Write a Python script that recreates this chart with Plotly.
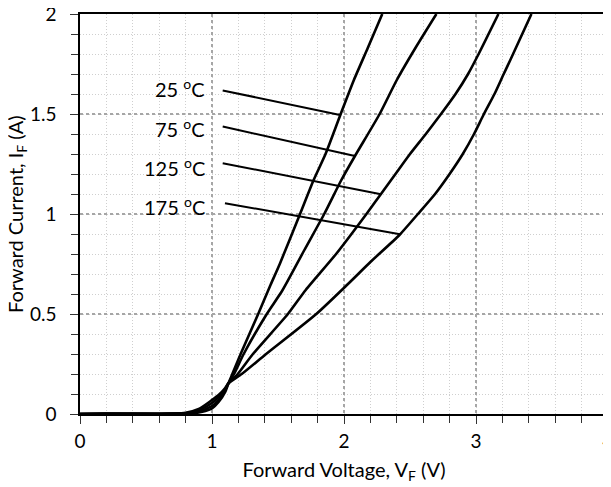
import plotly.graph_objects as go

# Forward voltage (V) / forward current (A)
v_25 = [0, 0.2, 0.4, 0.6, 0.7, 0.8, 0.9, 0.95, 1.0, 1.05, 1.1, 1.124, 1.154, 1.217, 1.35, 1.44, 1.515, 1.667, 1.77, 1.86, 1.975, 2.075, 2.18, 2.29]
i_25 = [0, 0, 0.002, 0, 0.001, 0.002, 0.008, 0.015, 0.028, 0.06, 0.11, 0.153, 0.2, 0.3, 0.5, 0.64, 0.753, 1.0, 1.17, 1.3, 1.5, 1.67, 1.83, 2.0]

v_75 = [0, 0.2, 0.4, 0.6, 0.75, 0.8, 0.9, 1.0, 1.05, 1.1, 1.124, 1.167, 1.24, 1.415, 1.535, 1.70, 1.85, 1.98, 2.083, 2.27, 2.40, 2.55, 2.70]
i_75 = [0, 0.001, 0, 0.001, 0.001, 0.003, 0.013, 0.04, 0.07, 0.12, 0.153, 0.2, 0.3, 0.5, 0.62, 0.82, 1.0, 1.17, 1.29, 1.5, 1.67, 1.84, 2.0]

v_125 = [0, 0.2, 0.4, 0.6, 0.75, 0.8, 0.9, 1.0, 1.05, 1.1, 1.124, 1.195, 1.31, 1.575, 1.71, 1.94, 2.17, 2.28, 2.39, 2.50, 2.62, 2.735, 2.845, 2.94, 3.02, 3.17]
i_125 = [0, 0.001, 0.001, 0, 0.002, 0.004, 0.018, 0.055, 0.085, 0.125, 0.153, 0.2, 0.3, 0.5, 0.62, 0.8, 1.0, 1.1, 1.2, 1.3, 1.4, 1.5, 1.6, 1.7, 1.8, 2.0]

v_175 = [0, 0.2, 0.4, 0.6, 0.7, 0.8, 0.9, 1.0, 1.05, 1.1, 1.124, 1.225, 1.41, 1.79, 2.03, 2.2, 2.42, 2.56, 2.69, 2.80, 2.90, 2.985, 3.06, 3.14, 3.21, 3.26, 3.42]
i_175 = [0, 0.002, 0, 0.001, 0.002, 0.006, 0.025, 0.07, 0.095, 0.13, 0.153, 0.2, 0.3, 0.5, 0.65, 0.76, 0.895, 1.0, 1.1, 1.2, 1.3, 1.4, 1.5, 1.6, 1.7, 1.77, 2.0]

curve_v = [v_25, v_75, v_125, v_175]
curve_i = [i_25, i_75, i_125, i_175]
labels = ["25 <sup>o</sup>C", "75 <sup>o</sup>C", "125 <sup>o</sup>C", "175 <sup>o</sup>C"]

x_ticks = [0, 1, 2, 3, 4]
y_ticks = [0, 0.5, 1, 1.5, 2]
y_tick_text = ["0", "0.5", "1", "1.5", "2"]

FONT = "Lato"
FS = 20
TFS = 19

fig = go.Figure()
for v, i in zip(curve_v, curve_i):
    fig.add_trace(go.Scatter(x=v, y=i, mode="lines",
                             line=dict(color="black", width=2.6, shape="spline", smoothing=0.6),
                             showlegend=False, hoverinfo="skip"))

# label text + leader lines
label_text_y = [1.63, 1.43, 1.235, 1.04]
leader_start = [(1.081, 1.618), (1.081, 1.437), (1.081, 1.254), (1.098, 1.054)]
leader_end = [(1.97, 1.495), (2.083, 1.29), (2.28, 1.099), (2.424, 0.899)]
for lab, ty, s, e in zip(labels, label_text_y, leader_start, leader_end):
    fig.add_annotation(x=0.962, y=ty, xref="x", yref="y", text=lab,
                       showarrow=False, xanchor="right", yanchor="middle",
                       font=dict(family=FONT, size=FS, color="black"))
    fig.add_shape(type="line", xref="x", yref="y", x0=s[0], y0=s[1], x1=e[0], y1=e[1],
                  line=dict(color="black", width=2))

# y-axis title (placed as a rotated annotation for precise position)
fig.add_annotation(x=0, y=0.5, xref="paper", yref="paper", xshift=-64,
                   text="Forward Current, I<sub>F</sub> (A)", textangle=-90,
                   showarrow=False, xanchor="center", yanchor="middle",
                   font=dict(family=FONT, size=FS, color="black"))

axis_common = dict(
    showline=True, linecolor="black", linewidth=1.5, mirror=True,
    ticks="outside", ticklen=8, tickwidth=1.2, tickcolor="#333",
    showgrid=True, gridcolor="#a6a6a6", gridwidth=2.2, griddash="3px,3px",
    zeroline=False, automargin=False, ticklabeloverflow="allow",
    tickfont=dict(family=FONT, size=TFS, color="black"),
)

fig.update_xaxes(range=[0, 4], tickvals=x_ticks, ticktext=[str(t) for t in x_ticks],
                 ticklabelstandoff=1,
                 minor=dict(dtick=0.2, ticks="outside", ticklen=7, tickcolor="#333",
                            showgrid=True, gridcolor="#cfcfcf", gridwidth=1, griddash="1px,2px"),
                 title=dict(text="Forward Voltage, V<sub>F</sub> (V)", standoff=12,
                            font=dict(family=FONT, size=FS, color="black")),
                 **axis_common)
fig.update_yaxes(range=[0, 2], tickvals=y_ticks, ticktext=y_tick_text,
                 ticklabelstandoff=10,
                 minor=dict(dtick=0.1, ticks="outside", ticklen=7, tickcolor="#333",
                            showgrid=True, gridcolor="#cfcfcf", gridwidth=1, griddash="1px,2px"),
                 **axis_common)

# the page places the figure 8 px from the top-left corner; size it to fit the window
fig.update_layout(width=603, height=479, margin=dict(l=72, r=3, t=6, b=73),
                  plot_bgcolor="white", paper_bgcolor="white",
                  font=dict(family=FONT, size=FS, color="black"))

fig.write_html("out.html")
